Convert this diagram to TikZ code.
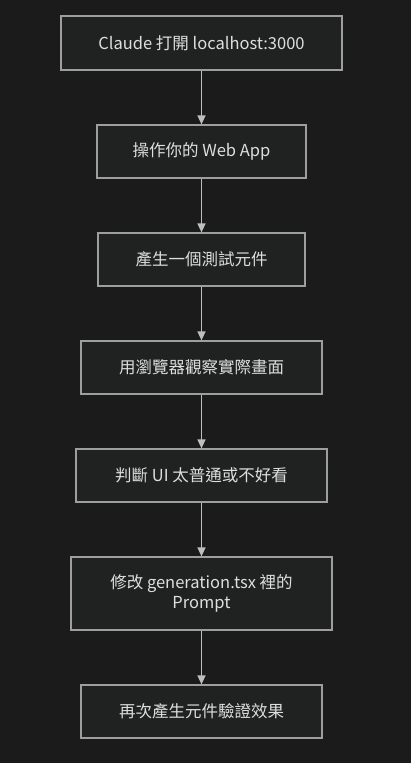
\documentclass[tikz,border=0pt]{standalone}
\usepackage{fontspec}
\setmainfont{Noto Sans CJK TC}
\usepackage{xcolor}
\usepackage{tikz}
\usetikzlibrary{arrows.meta,positioning}

\definecolor{bgdark}{RGB}{27,27,27}
\definecolor{boxfill}{RGB}{32,34,34}
\definecolor{boxline}{RGB}{158,158,158}
\definecolor{txtlight}{RGB}{222,222,222}
\definecolor{arrowgray}{RGB}{190,190,190}

\tikzset{
  stepbox/.style={draw=boxline, line width=1.2pt, fill=boxfill, text=txtlight,
    font=\fontsize{16.5}{20}\selectfont, align=center, inner sep=0pt},
  flowarrow/.style={draw=arrowgray, line width=1.2pt,
    -{Triangle[width=8pt,length=9pt]}},
}

\begin{document}
\begin{tikzpicture}[x=1pt,y=1pt,yscale=-1]
%set diagram area to 411 x 763
\fill [bgdark] (0,0) rectangle (411,763);
\useasboundingbox (0,0) rectangle (411,763);

% Text Node
\node [stepbox, minimum width=281pt, minimum height=54pt] (open) at (201.5,43) {Claude 打開 localhost:3000};
% Text Node
\node [stepbox, minimum width=209pt, minimum height=53pt] (operate) at (201.5,151.5) {操作你的 Web App};
% Text Node
\node [stepbox, minimum width=207pt, minimum height=53pt] (generate) at (201.5,259.5) {產生一個測試元件};
% Text Node
\node [stepbox, minimum width=241pt, minimum height=53pt] (observe) at (201.5,367.5) {用瀏覽器觀察實際畫面};
% Text Node
\node [stepbox, minimum width=251pt, minimum height=53pt] (judge) at (201.5,475.5) {判斷 UI 太普通或不好看};
% Text Node
\node [stepbox, minimum width=261pt, minimum height=73pt] (modify) at (201.5,593.5) {修改 generation.tsx 裡的\\Prompt};
% Text Node
\node [stepbox, minimum width=241pt, minimum height=53pt] (verify) at (201.5,711.5) {再次產生元件驗證效果};

%Straight Lines
\draw [flowarrow] (open) -- (operate);
\draw [flowarrow] (operate) -- (generate);
\draw [flowarrow] (generate) -- (observe);
\draw [flowarrow] (observe) -- (judge);
\draw [flowarrow] (judge) -- (modify);
\draw [flowarrow] (modify) -- (verify);

\end{tikzpicture}
\end{document}
